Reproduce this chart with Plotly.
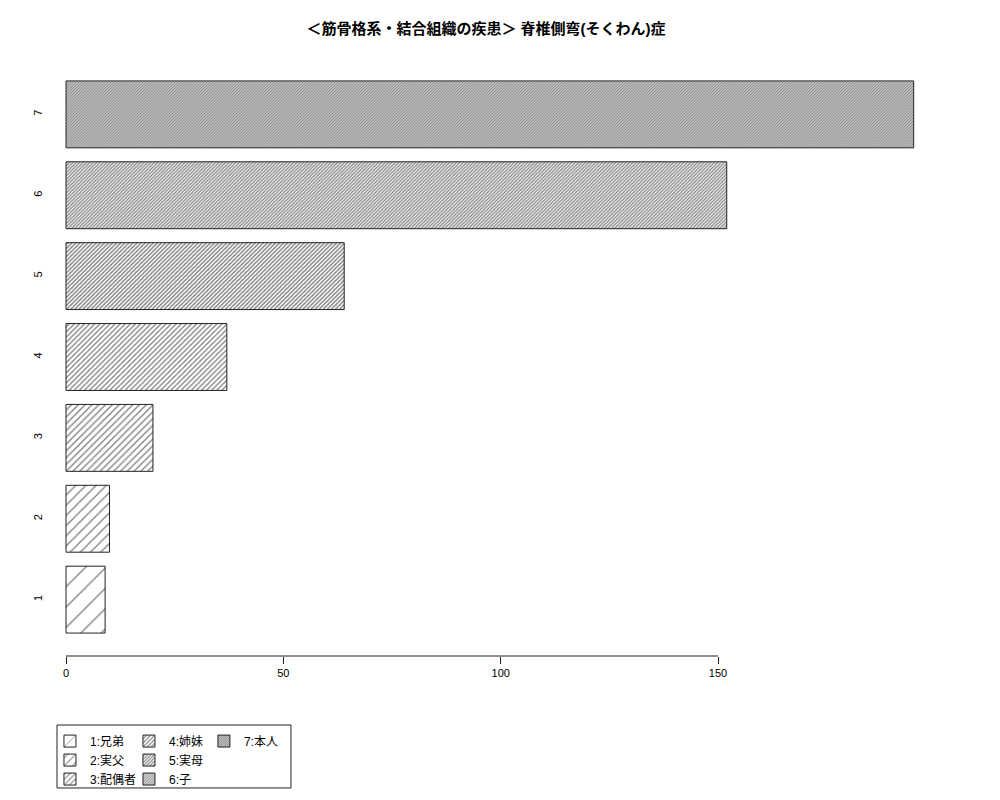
"""Horizontal hatched bar chart: 脊椎側弯(そくわん)症 by family relation."""

import plotly.graph_objects as go

CATEGORIES = ["1", "2", "3", "4", "5", "6", "7"]
VALUES = [9, 10, 20, 37, 64, 152, 195]
LEGEND_LABELS = ["1:兄弟", "2:実父", "3:配偶者", "4:姉妹", "5:実母", "6:子", "7:本人"]
X_TICKS = [0, 50, 100, 150]
TITLE = "<b>＜筋骨格系・結合組織の疾患＞ 脊椎側弯(そくわん)症</b>"

# hatch line densities (lines per inch, like R's density=)
HATCH_DENSITY = [5, 10, 15, 20, 25, 30, 35]
HATCH_LINE_PX = 1.3

_FONT = "Liberation Sans, Arial, Noto Sans CJK JP, sans-serif"
_LINE = "#222222"
_LEGENDS = ["legend", "legend", "legend", "legend2", "legend2", "legend2", "legend3"]

fig = go.Figure()
for cat, val, label, dens, leg in zip(CATEGORIES, VALUES, LEGEND_LABELS, HATCH_DENSITY, _LEGENDS):
    # plotly "/" pattern: perpendicular line spacing = size, line width = solidity * size
    size = 72 / dens
    fig.add_trace(
        go.Bar(
            y=[cat],
            x=[val],
            name=label,
            orientation="h",
            legend=leg,
            marker={
                "color": "white",
                "line": {"color": _LINE, "width": 1},
                "pattern": {
                    "shape": "/",
                    "fgcolor": "black",
                    "bgcolor": "white",
                    "size": size,
                    "solidity": min(0.9, HATCH_LINE_PX / size),
                },
            },
            hovertemplate="%{y}: %{x}<extra></extra>",
        )
    )

# R-style axis line spanning only the tick range
fig.add_shape(
    type="line",
    xref="x",
    yref="paper",
    x0=min(X_TICKS),
    x1=max(X_TICKS),
    y0=0,
    y1=0,
    line={"color": _LINE, "width": 1},
)
# legend border box
fig.add_shape(
    type="rect",
    xref="paper",
    yref="paper",
    x0=0.0133,
    x1=0.2724,
    y0=-0.1154,
    y1=-0.2207,
    line={"color": _LINE, "width": 1},
)

_legend_common = {
    "orientation": "v",
    "yanchor": "top",
    "xanchor": "left",
    "y": -0.118,
    "font": {"family": _FONT, "size": 12, "color": "black"},
    "bgcolor": "rgba(0,0,0,0)",
    "tracegroupgap": 0,
}

fig.update_layout(
    width=1000,
    height=800,
    title={
        "text": TITLE,
        "x": 0.478,
        "xref": "container",
        "xanchor": "center",
        "y": 0.974,
        "yref": "container",
        "yanchor": "middle",
        "font": {"family": _FONT, "size": 15, "color": "black"},
    },
    barmode="overlay",
    bargap=0.173,
    plot_bgcolor="white",
    paper_bgcolor="white",
    font={"family": _FONT, "size": 11, "color": "black"},
    xaxis={
        "range": [-4.83, 202.9],
        "tickvals": X_TICKS,
        "ticks": "outside",
        "ticklen": 7,
        "tickcolor": _LINE,
        "showline": False,
        "showgrid": False,
        "zeroline": False,
        "tickfont": {"size": 11},
    },
    yaxis={
        "type": "category",
        "categoryarray": CATEGORIES,
        "range": [-0.697, 6.697],
        "tickangle": -90,
        "ticks": "",
        "showline": False,
        "showgrid": False,
        "zeroline": False,
        "tickfont": {"size": 11},
    },
    showlegend=True,
    legend={**_legend_common, "x": 0.0055},
    legend2={**_legend_common, "x": 0.093},
    legend3={**_legend_common, "x": 0.176},
    margin={"l": 37, "r": 60, "t": 50, "b": 152},
)

fig.write_html("out.html")
